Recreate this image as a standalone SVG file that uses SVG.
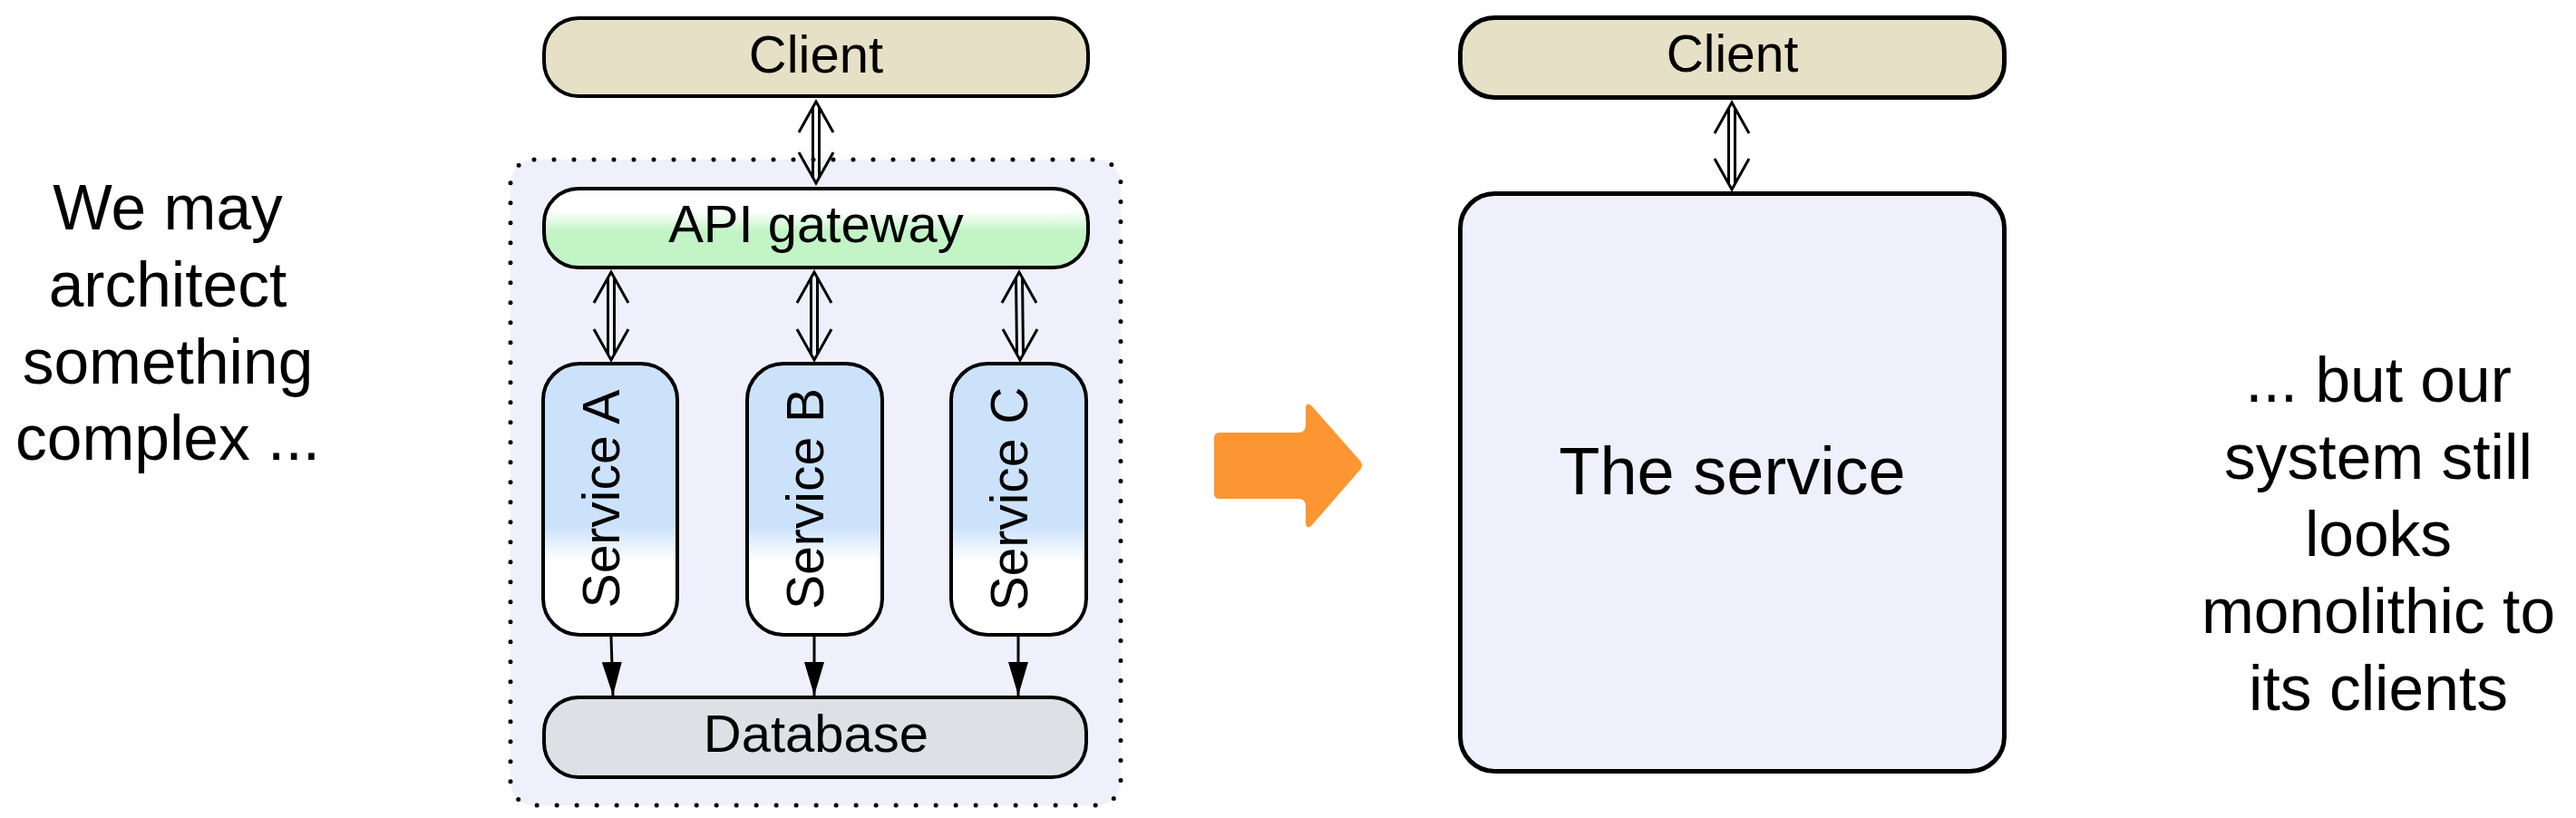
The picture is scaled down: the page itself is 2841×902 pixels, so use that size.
<svg xmlns="http://www.w3.org/2000/svg" width="2841" height="902" viewBox="0 0 2841 902">
  <style>
    text { font-family: "Liberation Sans", Arial, sans-serif; fill: #000; text-anchor: middle; }
    .side { font-size: 69.5px; }
    .lbl { font-size: 58px; }
    .svc { font-size: 57px; }
    .lblr { font-size: 57px; }
    .big { font-size: 74px; }
    .box { stroke: #000; stroke-width: 4; }
    .box5 { stroke: #000; stroke-width: 5; }
    .dbl { fill: none; stroke: #000; stroke-width: 3; stroke-linejoin: miter; stroke-linecap: butt; }
    .one { fill: none; stroke: #000; stroke-width: 3; }
  </style>
  <defs>
    <linearGradient id="gGreen" x1="0" y1="0" x2="0" y2="1">
      <stop offset="0" stop-color="#ffffff"/>
      <stop offset="0.28" stop-color="#ffffff"/>
      <stop offset="0.55" stop-color="#c2f4c6"/>
      <stop offset="1" stop-color="#c2f4c6"/>
    </linearGradient>
    <linearGradient id="gBlue" x1="0" y1="0" x2="0" y2="1">
      <stop offset="0" stop-color="#cce2fb"/>
      <stop offset="0.6" stop-color="#cce2fb"/>
      <stop offset="0.73" stop-color="#ffffff"/>
      <stop offset="1" stop-color="#ffffff"/>
    </linearGradient>
    <marker id="tri" viewBox="0 0 37 22" refX="37" refY="11" markerWidth="37" markerHeight="22" markerUnits="userSpaceOnUse" orient="auto">
      <path d="M0,0 L37,11 L0,22 Z" fill="#000"/>
    </marker>
  </defs>

  <g id="text-left">
    <text class="side" x="185" y="253">We may</text>
    <text class="side" x="185" y="338">architect</text>
    <text class="side" x="185" y="423">something</text>
    <text class="side" x="185" y="507">complex ...</text>
  </g>

  <g id="container">
    <rect x="563" y="176" width="673" height="712" rx="26" fill="#f0f0fc" stroke="#000" stroke-width="5" stroke-dasharray="0 22" stroke-linecap="round"/>
  </g>

  <g id="client-left">
    <rect class="box" x="600" y="20" width="600" height="86" rx="38" fill="#e6e0c6"/>
    <text class="lbl" x="900" y="80">Client</text>
  </g>

  <g id="api-gateway">
    <rect class="box" x="600" y="208" width="600" height="87" rx="38" fill="url(#gGreen)"/>
    <text class="lbl" x="900" y="267">API gateway</text>
  </g>

  <g id="service-a">
    <rect class="box" x="599" y="401" width="148" height="299" rx="40" fill="url(#gBlue)"/>
    <text class="svc" transform="translate(683,550) rotate(-90)">Service A</text>
  </g>
  <g id="service-b">
    <rect class="box" x="824" y="401" width="149" height="299" rx="40" fill="url(#gBlue)"/>
    <text class="svc" transform="translate(908,550) rotate(-90)">Service B</text>
  </g>
  <g id="service-c">
    <rect class="box" x="1049" y="401" width="149" height="299" rx="40" fill="url(#gBlue)"/>
    <text class="svc" transform="translate(1133,550) rotate(-90)">Service C</text>
  </g>

  <g id="database">
    <rect class="box" x="600" y="769" width="598" height="88" rx="38" fill="#dee0e5"/>
    <text class="lbl" x="900" y="829">Database</text>
  </g>

  <g id="orange-arrow">
    <path d="M1339,483 Q1339,477 1345,477 L1432,477 Q1440,477 1440,468 L1440,450 Q1441,442 1447,448 L1500,508 Q1504,513 1500,518 L1447,579 Q1441,585 1440,577 L1440,558 Q1440,550 1432,550 L1345,550 Q1339,550 1339,544 Z" fill="#fb9633"/>
  </g>

  <g id="client-right">
    <rect class="box5" x="1610.5" y="19.5" width="600" height="88" rx="38" fill="#e6e0c6"/>
    <text class="lblr" x="1910.5" y="79">Client</text>
  </g>

  <g id="the-service">
    <rect class="box5" x="1610.5" y="213.5" width="600" height="637" rx="38" fill="#f0f0fc"/>
    <text class="big" x="1910.5" y="545">The service</text>
  </g>

  <g id="text-right">
    <text class="side" x="2623" y="443">... but our</text>
    <text class="side" x="2623" y="528">system still</text>
    <text class="side" x="2623" y="613">looks</text>
    <text class="side" x="2623" y="698">monolithic to</text>
    <text class="side" x="2623" y="783">its clients</text>
  </g>

  <g id="connectors">
    <!-- Client <-> API gateway -->
    <path class="dbl" d="M881,146 L900,112 L919,146 M881,168 L900,202 L919,168 M896.5,118 V196 M903.5,118 V196"/>
    <!-- API gateway <-> Service A -->
    <path class="dbl" d="M655,334 L674,300 L693,334 M655,363 L674,397 L693,363 M670.5,306 V391 M677.5,306 V391"/>
    <!-- API gateway <-> Service B -->
    <path class="dbl" d="M879,334 L898,300 L917,334 M879,363 L898,397 L917,363 M894.5,306 V391 M901.5,306 V391"/>
    <!-- API gateway <-> Service C -->
    <path class="dbl" d="M1105,334 L1124,300 L1143,334 M1106,363 L1125,397 L1144,363 M1120.5,306 L1121.5,391 M1127.5,306 L1128.5,391"/>
    <!-- Services -> Database -->
    <path class="one" d="M674,702 L676,767" marker-end="url(#tri)"/>
    <path class="one" d="M898,702 L898,767" marker-end="url(#tri)"/>
    <path class="one" d="M1123,702 L1123,767" marker-end="url(#tri)"/>
    <!-- Client <-> The service -->
    <path class="dbl" d="M1891,147 L1910,113 L1929,147 M1891,175 L1910,209 L1929,175 M1906.5,119 V203 M1913.5,119 V203"/>
  </g>
</svg>
